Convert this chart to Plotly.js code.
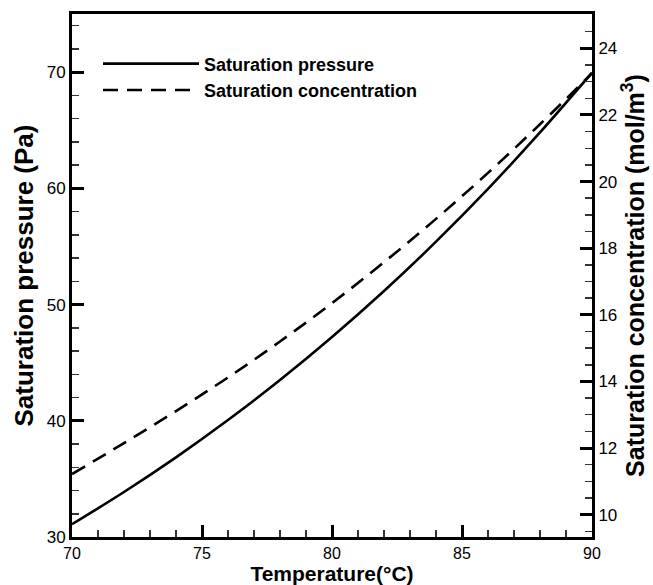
<!DOCTYPE html>
<html>
<head>
<meta charset="utf-8">
<script src="https://cdn.plot.ly/plotly-3.0.1.min.js"></script>
<style>html,body{margin:0;padding:0;background:#fff;}#chart{width:653px;height:585px;}</style>
</head>
<body>
<div id="chart"></div>
<script>
const temperature = [70, 72, 74, 76, 78, 80, 82, 84, 86, 88, 90];
const saturationPressure = [31.1, 33.87, 36.85, 40.06, 43.50, 47.20, 51.16, 55.41, 59.95, 64.81, 69.95];
const saturationConcentration = [11.22, 12.15, 13.11, 14.12, 15.20, 16.35, 17.58, 18.88, 20.26, 21.72, 23.25];
const seriesNames = ["Saturation pressure", "Saturation concentration"];

const font = "Liberation Sans, Arial, sans-serif";

const traces = [
  {x: temperature, y: saturationPressure, name: seriesNames[0], type: "scatter", mode: "lines",
   line: {color: "#000", width: 2.6, shape: "spline"}, yaxis: "y"},
  {x: temperature, y: saturationConcentration, name: seriesNames[1], type: "scatter", mode: "lines",
   line: {color: "#000", width: 2.6, dash: "15px,9px", shape: "spline"}, yaxis: "y2"}
];

const layout = {
  width: 653, height: 585,
  margin: {l: 72, r: 61, t: 14, b: 48},
  paper_bgcolor: "#fff", plot_bgcolor: "#fff",
  font: {family: font, color: "#000", size: 18},
  showlegend: true,
  legend: {x: 0.05, y: 0.94, xanchor: "left", yanchor: "top", bgcolor: "rgba(0,0,0,0)",
           font: {family: font, size: 18, weight: "bold"}, itemwidth: 96, tracegroupgap: 0},
  xaxis: {range: [70, 90], dtick: 5, tick0: 70, tickmode: "linear", ticks: "inside", ticklen: 12, tickwidth: 3, tickcolor: "#000",
          showline: true, linewidth: 3, linecolor: "#000", mirror: true, showgrid: false, zeroline: false,
          tickfont: {size: 16},
          minor: {dtick: 1, ticks: "inside", ticklen: 7, tickwidth: 1.5, tickcolor: "#333", showgrid: false},
          title: {text: "Temperature(°C)", font: {size: 21, weight: "bold"}, standoff: 4}},
  yaxis: {range: [30, 75], dtick: 10, tick0: 30, tickmode: "linear", ticks: "inside", ticklen: 12, tickwidth: 3, tickcolor: "#000",
          showline: true, linewidth: 3, linecolor: "#000", showgrid: false, zeroline: false,
          tickfont: {size: 17},
          minor: {dtick: 2, ticks: "inside", ticklen: 7, tickwidth: 1.5, tickcolor: "#333", showgrid: false},
          title: {text: "Saturation pressure (Pa)", font: {size: 26, weight: "bold"}, standoff: 6}},
  yaxis2: {range: [9.33, 25.03], dtick: 2, tick0: 10, tickmode: "linear", overlaying: "y", side: "right",
           ticks: "inside", ticklen: 12, tickwidth: 3, tickcolor: "#000",
           showline: true, linewidth: 3, linecolor: "#000", showgrid: false, zeroline: false,
           tickfont: {size: 17},
           minor: {dtick: 0.5, ticks: "inside", ticklen: 7, tickwidth: 1.5, tickcolor: "#333", showgrid: false},
           title: {text: "Saturation concentration (mol/m<sup>3</sup>)", font: {size: 25, weight: "bold"}, standoff: 6}}
};

Plotly.newPlot("chart", traces, layout, {displayModeBar: false, staticPlot: true});
</script>
</body>
</html>
